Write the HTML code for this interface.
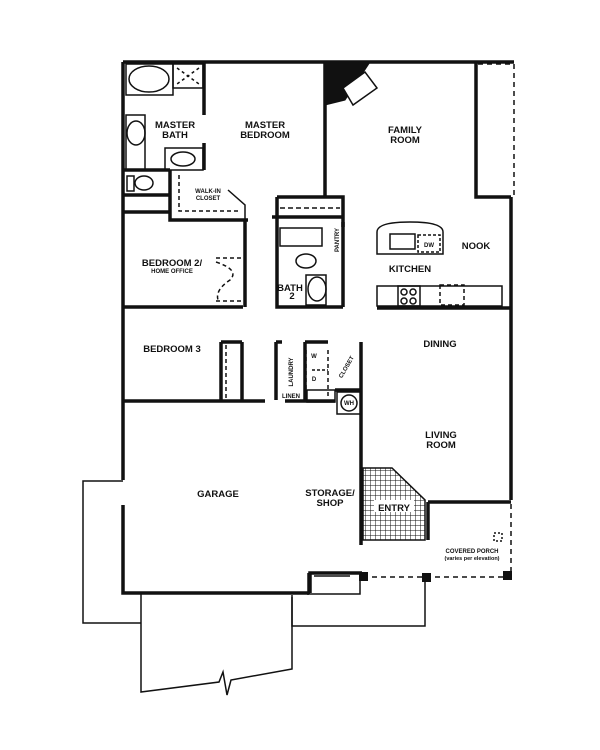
<!DOCTYPE html>
<html><head><style>
html,body{margin:0;padding:0;background:#fff;}
svg{display:block}
text{font-family:"Liberation Sans",sans-serif;font-weight:bold;fill:#111;text-anchor:middle}
</style></head><body>
<svg width="600" height="750" viewBox="0 0 600 750" xmlns="http://www.w3.org/2000/svg">
<g stroke="#111" fill="none">
<!-- outer walls -->
<g stroke-width="3.5">
<path d="M123 62 H514"/>
<path d="M123 62 V400"/>
<path d="M123 400 V480 M123 505 V593 H310"/>
<path d="M310 593 V573 H362"/>
<path d="M361 395 V545"/>
<path d="M511 197 V500"/>
<path d="M428 502 H511"/>
<path d="M325 62 V197"/>
<path d="M476 62 V197 H511"/>
<path d="M377 308 H511"/>
<path d="M123 307 H243"/>
<path d="M123 401 H265 M285 401 H335"/>
<path d="M335 390 H361"/>
<path d="M204 62 V115 M204 143 V170"/>
<path d="M123 170 H170"/>
<path d="M170 170 V220 H248"/>
<path d="M245 220 V307"/>
<path d="M277 197 H343 V227 M277 197 V227"/>
<path d="M272 217 H343"/>
<path d="M277 227 V307 H343"/>
<path d="M343 222 V307"/>
<path d="M123 195 H170 M123 212 H170"/>
<path d="M276 342 V400 M276 342 H282"/>
<path d="M305 342 V400 M305 342 H328"/>
<path d="M361 342 V395"/>
<path d="M221 342 V400 M221 342 H242 M242 342 V400"/>
<path d="M362 468 V540"/>
<path d="M428 502 V540"/>
</g>
<!-- fireplace -->
<path d="M325 62 H370 L345 100 L325 105 Z" fill="#111"/>
<path d="M343 88 L365 72 L377 88 L353 105 Z" fill="#fff" stroke-width="1.5"/>
<!-- fixtures -->
<g stroke-width="1.5">
<rect x="126" y="64" width="47" height="31"/>
<ellipse cx="149" cy="79" rx="20" ry="13"/>
<rect x="173" y="64" width="30" height="24"/>
<path d="M177 68 L199 84 M199 68 L177 84" stroke-dasharray="3 3"/>
<rect x="126" y="115" width="19" height="55"/>
<ellipse cx="136" cy="133" rx="9" ry="12"/>
<rect x="165" y="148" width="38" height="22"/>
<ellipse cx="183" cy="159" rx="12" ry="7"/>
<rect x="127" y="176" width="7" height="15"/>
<ellipse cx="144" cy="183" rx="9" ry="7"/>
<path d="M179 175 V211 H240" stroke-dasharray="4 3"/>
<path d="M228 190 L245 205 V220"/>
<rect x="280" y="228" width="42" height="18"/>
<ellipse cx="306" cy="261" rx="10" ry="7"/>
<rect x="306" y="275" width="20" height="30"/>
<ellipse cx="317" cy="289" rx="9" ry="12"/>
<path d="M280 208 H340" stroke-dasharray="5 3"/>
<path d="M377 232 Q377 222 410 222 Q443 222 443 232 V254 H377 Z"/>
<rect x="390" y="234" width="25" height="15"/>
<rect x="418" y="235" width="22" height="17" stroke-dasharray="3 2"/>
<rect x="377" y="286" width="125" height="20"/>
<rect x="398" y="286" width="22" height="20"/>
<circle cx="404" cy="292" r="3"/><circle cx="413" cy="292" r="3"/>
<circle cx="404" cy="301" r="3"/><circle cx="413" cy="301" r="3"/>
<rect x="440" y="285" width="24" height="20" stroke-dasharray="4 3"/>
<path d="M216 258 H242 M216 301 H242" stroke-dasharray="4 3"/>
<path d="M216 262 Q240 270 230 280 Q215 290 218 300" stroke-dasharray="4 3"/>
<path d="M226 345 V398" stroke-dasharray="4 3"/>
<path d="M306 350 V398 M328 350 V398" stroke-dasharray="4 3"/>
<rect x="307" y="390" width="28" height="12"/>
<circle cx="349" cy="403" r="8"/>
<rect x="337" y="392" width="24" height="22"/>
<path d="M312 370 H328" stroke-dasharray="3 2"/>
<path d="M478 64 H514 V197" stroke-dasharray="5 4"/>
<!-- entry grid -->
<path d="M362 468 H392 L425 500 V540 H362 Z" fill="url(#g)"/>
<!-- porch -->
<path d="M363 577 H511 V502" stroke-dasharray="5 4"/>
<rect x="494" y="533" width="8" height="8" stroke-dasharray="2 2"/>
<!-- patios / driveway -->
<path d="M123 481 H83 V623 H141"/>
<path d="M141 593 V692 L219 682 L223 672 L227 695 L231 680 L292 669 V595"/>
<path d="M292 597 V626 H425 V577"/>
<path d="M308 573 V595 M310 573 H360 V594 H310"/>
<path d="M314 576 H350"/>
</g>
<rect x="359" y="572" width="9" height="9" fill="#111" stroke="none"/>
<rect x="422" y="573" width="9" height="9" fill="#111" stroke="none"/>
<rect x="503" y="571" width="9" height="9" fill="#111" stroke="none"/>
</g>
<defs><pattern id="g" width="5" height="5" patternUnits="userSpaceOnUse"><path d="M0 0 H5 M0 0 V5" stroke="#111" stroke-width="1"/></pattern></defs>
<rect x="374" y="500" width="40" height="12" fill="#fff"/>
<g font-size="9.5">
<text x="175" y="128">MASTER</text><text x="175" y="138">BATH</text>
<text x="265" y="128">MASTER</text><text x="265" y="138">BEDROOM</text>
<text x="405" y="133">FAMILY</text><text x="405" y="143">ROOM</text>
<text x="476" y="249">NOOK</text>
<text x="410" y="272">KITCHEN</text>
<text x="172" y="266">BEDROOM 2/</text>
<text x="172" y="352">BEDROOM 3</text>
<text x="290" y="291">BATH</text><text x="292" y="299">2</text>
<text x="440" y="347">DINING</text>
<text x="441" y="438">LIVING</text><text x="441" y="448">ROOM</text>
<text x="218" y="497">GARAGE</text>
<text x="330" y="496">STORAGE/</text><text x="330" y="506">SHOP</text>
<text x="394" y="511">ENTRY</text>
</g>
<g font-size="6">
<text x="172" y="273">HOME OFFICE</text>
<text x="208" y="193">WALK-IN</text><text x="208" y="200">CLOSET</text>
<text x="472" y="553">COVERED PORCH</text>
<text x="472" y="560" font-size="5.5">(varies per elevation)</text>
<text x="429" y="247">DW</text>
<text x="291" y="398">LINEN</text>
<text x="349" y="405">WH</text>
<text x="314" y="358">W</text>
<text x="314" y="381">D</text>
<text transform="translate(339,240) rotate(-90)">PANTRY</text>
<text transform="translate(293,372) rotate(-90)">LAUNDRY</text>
<text transform="translate(348,368) rotate(-60)">CLOSET</text>
</g>
</svg>
</body></html>
